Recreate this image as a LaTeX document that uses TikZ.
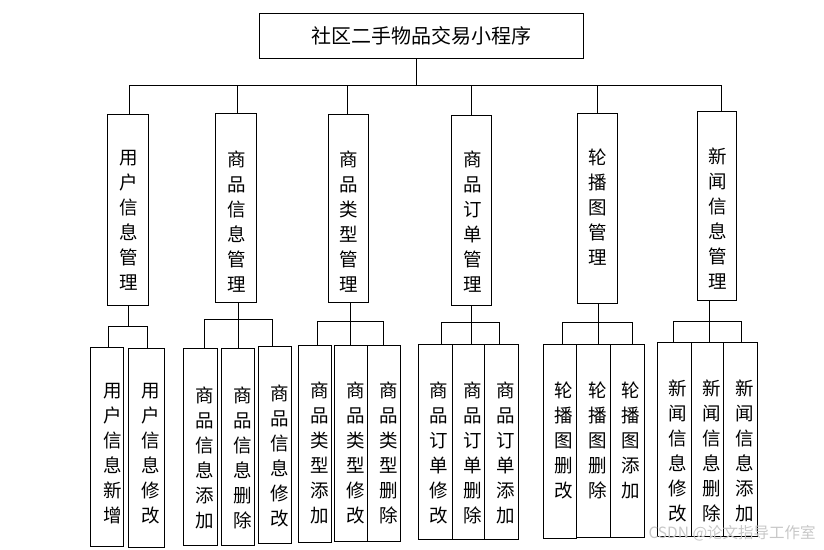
\documentclass[tikz,border=0pt]{standalone}
\usepackage{fontspec}
\newfontfamily\cjk{Noto Sans CJK SC}
\newcommand\bxat[5]{\node[bx, minimum width={#4-#2}, minimum height={#5-#3}] (#1) at (#2,#3) {};}
\newcommand\vtext[4]{\node[vt] (#1) at (#2,#3) {#4};}
\begin{document}
\begin{tikzpicture}[x=1pt,y=-1pt, line width=1pt,
 bx/.style={draw, inner sep=0, anchor=north west},
 vt/.style={font=\cjk\fontsize{18.5}{25}\selectfont, align=center, inner sep=0, anchor=north},
 wmark/.style={font=\cjk\fontsize{15.5}{15.5}\selectfont, text=black!22, anchor=west, inner sep=0}]
\useasboundingbox (0,0) rectangle (824,549);

% title
\node[draw, font=\cjk\fontsize{20}{20}\selectfont, minimum width=324, minimum height=45, inner sep=0] (T) at (421,35.5) {\raisebox{-3pt}{社区二手物品交易小程序}};

% level 1 boxes
\bxat{u}{107}{114}{148}{305}
\bxat{g}{215}{113}{256}{302}
\bxat{t}{328}{114}{368}{302}
\bxat{o}{451}{115}{491}{305}
\bxat{l}{577}{113}{617}{303}
\bxat{n}{697}{111}{736}{300}

\vtext{ut}{129}{150}{用\\户\\信\\息\\管\\理}
\vtext{gt}{237}{150}{商\\品\\信\\息\\管\\理}
\vtext{tt}{349}{150}{商\\品\\类\\型\\管\\理}
\vtext{ot}{473}{150}{商\\品\\订\\单\\管\\理}
\vtext{lt}{597.5}{148}{轮\\播\\图\\管\\理}
\vtext{nt}{717.5}{147}{新\\闻\\信\\息\\管\\理}

% top bar
\coordinate (AT) at (416,85);
\coordinate (A0) at (129,85);
\coordinate (A1) at (237,85);
\coordinate (A2) at (347,85);
\coordinate (A3) at (471,85);
\coordinate (A4) at (597,85);
\coordinate (A5) at (721,85);
\draw (T.south -| AT) -- (AT);
\draw (A0) -- (A5);
\draw (A0) -- (A0 |- u.north);
\draw (A1) -- (A1 |- g.north);
\draw (A2) -- (A2 |- t.north);
\draw (A3) -- (A3 |- o.north);
\draw (A4) -- (A4 |- l.north);
\draw (A5) -- (A5 |- n.north);

% group: user
\bxat{u1}{90}{347}{123}{546}
\bxat{u2}{128}{348}{164}{547}
\vtext{u1t}{112.5}{383}{用\\户\\信\\息\\新\\增}
\vtext{u2t}{151}{383}{用\\户\\信\\息\\修\\改}
\coordinate (ub0) at (108,326);
\coordinate (ub1) at (128,326);
\coordinate (ub2) at (147,326);
\draw (u.south -| ub1) -- (ub1);
\draw (ub0) -- (ub2);
\draw (ub0) -- (ub0 |- u1.north);
\draw (ub2) -- (ub2 |- u2.north);

% group: goods info
\bxat{g1}{183}{348}{217}{545}
\bxat{g2}{221}{348}{254}{545}
\bxat{g3}{258}{346}{291}{543}
\vtext{g1t}{205}{386}{商\\品\\信\\息\\添\\加}
\vtext{g2t}{243}{386}{商\\品\\信\\息\\删\\除}
\vtext{g3t}{280}{384}{商\\品\\信\\息\\修\\改}
\coordinate (gb0) at (204,319);
\coordinate (gb1) at (238,319);
\coordinate (gb2) at (272,319);
\draw (g.south -| gb1) -- (gb1);
\draw (gb0) -- (gb2);
\draw (gb0) -- (gb0 |- g1.north);
\draw (gb1) -- (gb1 |- g2.north);
\draw (gb2) -- (gb2 |- g3.north);

% group: goods type
\bxat{t1}{298}{345}{331}{542}
\bxat{t2}{334}{345}{367}{541}
\bxat{t3}{367}{345}{400}{541}
\vtext{t1t}{320}{381}{商\\品\\类\\型\\添\\加}
\vtext{t2t}{356}{381}{商\\品\\类\\型\\修\\改}
\vtext{t3t}{389}{381}{商\\品\\类\\型\\删\\除}
\coordinate (tb0) at (317,321);
\coordinate (tb1) at (350,321);
\coordinate (tb2) at (383,321);
\draw (t.south -| tb1) -- (tb1);
\draw (tb0) -- (tb2);
\draw (tb0) -- (tb0 |- t1.north);
\draw (tb1) -- (tb1 |- t2.north);
\draw (tb2) -- (tb2 |- t3.north);

% group: orders
\bxat{o1}{418}{344}{452}{539}
\bxat{o2}{452}{344}{484}{539}
\bxat{o3}{484}{344}{518}{539}
\vtext{o1t}{439}{381}{商\\品\\订\\单\\修\\改}
\vtext{o2t}{473}{381}{商\\品\\订\\单\\删\\除}
\vtext{o3t}{506}{381}{商\\品\\订\\单\\添\\加}
\coordinate (ob0) at (441,322);
\coordinate (ob1) at (471,322);
\coordinate (ob2) at (499,322);
\draw (o.south -| ob1) -- (ob1);
\draw (ob0) -- (ob2);
\draw (ob0) -- (ob0 |- o1.north);
\draw (ob1) -- (ob1 |- o2.north);
\draw (ob2) -- (ob2 |- o3.north);

% group: carousel
\bxat{l1}{543}{344}{576}{538}
\bxat{l2}{576}{344}{610}{537}
\bxat{l3}{610}{344}{644}{537}
\vtext{l1t}{564}{381}{轮\\播\\图\\删\\改}
\vtext{l2t}{598}{381}{轮\\播\\图\\删\\除}
\vtext{l3t}{631}{381}{轮\\播\\图\\添\\加}
\coordinate (lb0) at (562,322);
\coordinate (lb1) at (598,322);
\coordinate (lb2) at (632,322);
\draw (l.south -| lb1) -- (lb1);
\draw (lb0) -- (lb2);
\draw (lb0) -- (lb0 |- l1.north);
\draw (lb1) -- (lb1 |- l2.north);
\draw (lb2) -- (lb2 |- l3.north);

% group: news
\bxat{n1}{657}{342}{691}{536}
\bxat{n2}{691}{342}{723}{536}
\bxat{n3}{723}{342}{757}{536}
\vtext{n1t}{678}{379}{新\\闻\\信\\息\\修\\改}
\vtext{n2t}{712}{379}{新\\闻\\信\\息\\删\\除}
\vtext{n3t}{745}{379}{新\\闻\\信\\息\\添\\加}
\coordinate (nb0) at (673,321);
\coordinate (nb1) at (709,321);
\coordinate (nb2) at (741,321);
\draw (n.south -| nb1) -- (nb1);
\draw (nb0) -- (nb2);
\draw (nb0) -- (nb0 |- n1.north);
\draw (nb1) -- (nb1 |- n2.north);
\draw (nb2) -- (nb2 |- n3.north);

% watermark
\node[wmark] (wm) at (648,533) {CSDN @论文指导工作室};
\end{tikzpicture}
\end{document}
